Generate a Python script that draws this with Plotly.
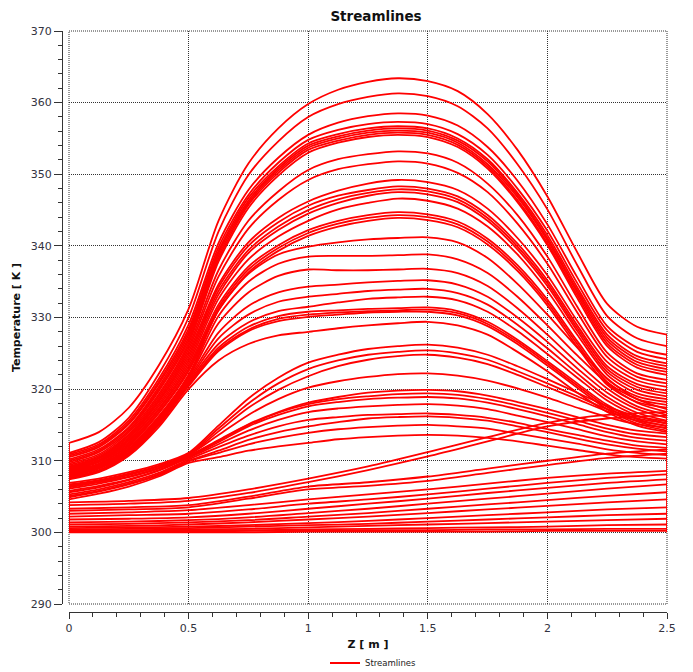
import plotly.graph_objects as go

# ---------------- data ----------------
# axial positions (m) at which the streamline temperatures were read
Z_FINE = [0.0, 0.125, 0.25, 0.375, 0.5, 0.625, 0.75, 0.875, 1.0, 1.125, 1.25,
          1.375, 1.5, 1.625, 1.75, 1.875, 2.0, 2.125, 2.25, 2.375, 2.5]
Z_COARSE = [0.0, 0.25, 0.5, 0.75, 1.0, 1.25, 1.5, 1.75, 2.0, 2.25, 2.5]
INLET_T = 300.0
Z_IN, Z_OUT = 0.0, 2.5

# hottest streamlines (peak 351-363 K), temperatures on Z_FINE
FAMILY_A = [
    [312.5, 314.0, 317.4, 323.3, 331.2, 343.5, 351.5, 356.4, 359.8, 361.8, 362.9, 363.4, 363.0, 361.6, 358.4, 353.4, 346.9, 339.1, 331.9, 328.7, 327.6],
    [311.1, 312.6, 316.0, 322.1, 330.0, 342.0, 349.9, 354.6, 358.0, 359.8, 360.8, 361.3, 360.9, 359.5, 356.4, 351.4, 345.1, 337.3, 330.2, 327.1, 326.0],
    [310.9, 312.3, 315.6, 321.4, 329.0, 340.4, 347.8, 352.3, 355.5, 357.2, 358.1, 358.5, 358.2, 356.8, 353.8, 349.1, 343.0, 335.6, 328.8, 325.8, 324.8],
    [310.7, 312.1, 315.3, 321.0, 328.4, 339.8, 347.1, 351.6, 354.8, 356.2, 357.0, 357.3, 357.0, 355.6, 352.7, 348.0, 342.1, 334.8, 328.2, 325.2, 324.2],
    [310.5, 311.9, 315.1, 320.7, 328.0, 339.3, 346.7, 351.1, 354.3, 355.6, 356.4, 356.7, 356.4, 355.0, 352.1, 347.4, 341.5, 334.2, 327.6, 324.6, 323.6],
    [310.2, 311.6, 314.7, 320.3, 327.6, 339.0, 346.3, 350.8, 354.0, 355.3, 356.1, 356.4, 356.1, 354.7, 351.8, 347.1, 341.1, 333.8, 327.2, 324.2, 323.2],
    [310.0, 311.4, 314.5, 320.0, 327.2, 338.6, 346.0, 350.5, 353.7, 355.0, 355.8, 356.1, 355.8, 354.4, 351.4, 346.8, 340.8, 333.5, 326.8, 323.8, 322.8],
    [309.8, 311.2, 314.2, 319.7, 326.8, 338.2, 345.7, 350.2, 353.4, 354.7, 355.5, 355.8, 355.5, 354.1, 351.1, 346.4, 340.4, 333.1, 326.4, 323.4, 322.4],
    [309.6, 310.9, 314.0, 319.3, 326.4, 337.8, 345.3, 349.8, 353.0, 354.4, 355.2, 355.5, 355.2, 353.8, 350.8, 346.1, 340.1, 332.7, 326.0, 323.0, 322.0],
    [309.4, 310.7, 313.7, 319.0, 326.0, 336.6, 343.5, 347.6, 350.6, 352.1, 352.8, 353.2, 352.9, 351.6, 348.7, 344.3, 338.5, 331.5, 325.1, 322.2, 321.3],
    [309.2, 310.5, 313.5, 318.7, 325.6, 335.7, 342.4, 346.4, 349.2, 350.7, 351.4, 351.8, 351.5, 350.2, 347.5, 343.1, 337.5, 330.7, 324.5, 321.7, 320.8],
]

# peak 344-349 K
FAMILY_B = [
    [309.1, 310.4, 313.3, 318.4, 325.2, 334.6, 340.5, 343.9, 346.2, 347.7, 348.7, 349.2, 348.9, 347.8, 345.2, 341.1, 335.9, 329.5, 323.8, 321.2, 320.3],
    [309.0, 310.3, 313.1, 318.2, 324.8, 334.2, 340.0, 343.3, 345.6, 347.0, 347.8, 348.3, 348.0, 346.9, 344.3, 340.3, 335.2, 328.9, 323.2, 320.7, 319.8],
    [308.9, 310.1, 312.9, 317.9, 324.4, 333.7, 339.4, 342.7, 345.0, 346.5, 347.4, 347.9, 347.6, 346.5, 343.9, 339.9, 334.8, 328.5, 322.8, 320.3, 319.4],
    [308.8, 310.0, 312.8, 317.6, 324.0, 333.2, 339.0, 342.2, 344.5, 346.0, 347.0, 347.5, 347.2, 346.1, 343.5, 339.5, 334.4, 328.1, 322.4, 319.9, 319.0],
    [308.7, 309.9, 312.6, 317.3, 323.6, 332.6, 338.1, 341.3, 343.5, 345.1, 346.0, 346.6, 346.3, 345.2, 342.7, 338.8, 333.7, 327.6, 322.0, 319.4, 318.6],
    [308.6, 309.8, 312.4, 317.1, 323.2, 331.8, 337.1, 340.1, 342.2, 343.5, 344.3, 344.7, 344.4, 343.4, 341.0, 337.3, 332.5, 326.7, 321.4, 319.0, 318.2],
    [308.5, 309.6, 312.2, 316.8, 322.8, 331.4, 336.7, 339.7, 341.8, 343.1, 343.9, 344.3, 344.0, 343.0, 340.6, 336.9, 332.1, 326.3, 321.0, 318.6, 317.8],
    [308.4, 309.5, 312.1, 316.6, 322.5, 331.0, 336.3, 339.3, 341.4, 342.7, 343.5, 343.9, 343.6, 342.6, 340.2, 336.5, 331.7, 325.9, 320.6, 318.2, 317.4],
]

# peak 329-341 K, flat plateau
FAMILY_C = [
    [308.3, 309.4, 311.9, 316.2, 322.0, 331.0, 336.1, 338.8, 339.9, 340.5, 340.9, 341.1, 341.2, 340.5, 338.3, 334.7, 330.4, 325.8, 321.5, 318.6, 317.2],
    [308.2, 309.3, 311.7, 316.1, 321.8, 330.2, 335.0, 337.5, 338.5, 338.6, 338.6, 338.7, 338.8, 338.1, 336.2, 332.9, 328.9, 324.7, 320.8, 318.1, 316.8],
    [308.1, 309.2, 311.6, 315.9, 321.6, 329.2, 333.5, 335.8, 336.7, 336.6, 336.6, 336.7, 336.8, 336.2, 334.4, 331.3, 327.6, 323.7, 320.1, 317.6, 316.4],
    [308.0, 309.1, 311.5, 315.8, 321.4, 327.9, 331.6, 333.5, 334.3, 334.6, 334.9, 335.1, 335.2, 334.6, 332.9, 330.0, 326.6, 322.9, 319.5, 317.2, 316.0],
    [307.9, 309.0, 311.4, 315.6, 321.2, 327.1, 330.4, 332.2, 332.9, 333.3, 333.7, 333.9, 334.0, 333.4, 331.8, 329.0, 325.7, 322.2, 318.9, 316.7, 315.6],
    [307.8, 308.9, 311.2, 315.5, 321.0, 326.3, 329.3, 330.9, 331.5, 332.1, 332.6, 332.8, 332.9, 332.4, 330.8, 328.1, 324.9, 321.6, 318.4, 316.3, 315.2],
    [307.7, 308.7, 311.1, 315.3, 320.8, 325.8, 328.7, 330.2, 330.8, 331.0, 331.2, 331.3, 331.4, 330.9, 329.4, 326.9, 323.9, 320.8, 317.8, 315.8, 314.8],
    [307.6, 308.6, 311.0, 315.1, 320.6, 325.5, 328.3, 329.8, 330.4, 330.7, 330.9, 331.0, 331.1, 330.6, 329.1, 326.6, 323.6, 320.5, 317.5, 315.5, 314.5],
    [307.5, 308.5, 310.9, 315.0, 320.4, 325.3, 328.1, 329.5, 330.1, 330.4, 330.7, 330.8, 330.8, 330.3, 328.8, 326.3, 323.3, 320.2, 317.2, 315.2, 314.2],
    [307.4, 308.4, 310.7, 314.7, 320.0, 324.0, 326.3, 327.5, 328.0, 328.5, 328.9, 329.2, 329.4, 328.9, 327.6, 325.2, 322.5, 319.5, 316.8, 314.9, 314.0],
]

# peak 313-326 K, later rise
FAMILY_D = [
    [306.9, 307.5, 308.4, 309.5, 311.1, 314.9, 318.7, 321.6, 323.7, 324.8, 325.6, 326.0, 326.2, 325.8, 324.8, 323.2, 321.4, 319.5, 317.6, 316.2, 315.5],
    [306.7, 307.3, 308.2, 309.3, 310.9, 314.5, 318.0, 320.8, 322.8, 324.0, 324.8, 325.2, 325.4, 325.0, 324.1, 322.5, 320.8, 319.0, 317.2, 315.9, 315.2],
    [306.6, 307.2, 308.1, 309.2, 310.8, 314.1, 317.4, 319.9, 321.8, 323.2, 324.1, 324.6, 324.8, 324.4, 323.5, 322.0, 320.3, 318.6, 316.9, 315.6, 314.9],
    [306.5, 307.1, 308.0, 309.2, 310.8, 313.6, 316.4, 318.6, 320.2, 321.1, 321.7, 322.1, 322.2, 321.9, 321.2, 320.1, 318.8, 317.4, 316.1, 315.1, 314.6],
    [306.3, 307.0, 307.8, 309.0, 310.7, 312.9, 315.1, 316.8, 318.1, 318.9, 319.5, 319.8, 319.9, 319.7, 319.1, 318.2, 317.2, 316.1, 315.0, 314.2, 313.8],
    [306.1, 306.8, 307.7, 308.9, 310.6, 312.8, 315.0, 316.7, 317.9, 318.6, 319.0, 319.3, 319.4, 319.2, 318.6, 317.7, 316.7, 315.6, 314.5, 313.7, 313.3],
    [305.8, 306.5, 307.4, 308.7, 310.5, 312.6, 314.8, 316.4, 317.6, 318.2, 318.6, 318.8, 318.9, 318.7, 318.1, 317.2, 316.2, 315.1, 314.0, 313.2, 312.8],
    [305.6, 306.3, 307.3, 308.6, 310.4, 312.3, 314.2, 315.7, 316.8, 317.3, 317.6, 317.8, 317.9, 317.7, 317.2, 316.3, 315.4, 314.4, 313.4, 312.7, 312.3],
    [305.3, 306.0, 307.0, 308.3, 310.2, 311.9, 313.5, 314.8, 315.7, 316.1, 316.4, 316.5, 316.6, 316.4, 316.0, 315.3, 314.4, 313.6, 312.8, 312.1, 311.8],
    [305.1, 305.8, 306.8, 308.1, 310.0, 311.4, 312.9, 314.0, 314.8, 315.4, 315.9, 316.1, 316.2, 316.0, 315.6, 314.8, 314.0, 313.1, 312.3, 311.7, 311.3],
    [304.9, 305.7, 306.7, 308.0, 309.9, 311.1, 312.3, 313.2, 313.9, 314.4, 314.7, 314.9, 315.0, 314.8, 314.5, 313.8, 313.1, 312.4, 311.6, 311.1, 310.8],
    [304.6, 305.4, 306.4, 307.8, 309.7, 310.5, 311.4, 312.0, 312.5, 313.0, 313.3, 313.5, 313.6, 313.5, 313.2, 312.7, 312.1, 311.5, 310.9, 310.5, 310.3],
]

# near-wall streamlines, slowly rising, temperatures on Z_COARSE
FAMILY_E = [
    [304.2, 304.4, 304.8, 306.0, 307.5, 309.2, 311.2, 313.3, 315.3, 316.4, 316.8],
    [303.8, 304.0, 304.4, 305.5, 307.0, 308.7, 310.6, 312.7, 314.8, 315.9, 316.3],
    [303.3, 303.5, 303.8, 305.0, 306.4, 307.0, 307.8, 308.9, 310.0, 311.0, 311.6],
    [303.0, 303.2, 303.5, 304.7, 306.0, 306.5, 307.2, 308.3, 309.4, 310.4, 311.0],
    [302.6, 302.8, 303.1, 303.8, 304.6, 305.3, 306.0, 306.8, 307.6, 308.2, 308.6],
    [302.2, 302.4, 302.6, 303.2, 304.0, 304.6, 305.3, 306.1, 306.9, 307.6, 308.1],
    [301.8, 301.9, 302.1, 302.6, 303.3, 304.0, 304.7, 305.5, 306.2, 306.9, 307.4],
    [301.4, 301.5, 301.7, 302.1, 302.7, 303.3, 304.0, 304.7, 305.4, 306.1, 306.7],
    [301.1, 301.2, 301.4, 301.7, 302.2, 302.7, 303.3, 303.9, 304.5, 305.1, 305.6],
    [300.8, 300.9, 301.1, 301.4, 301.8, 302.2, 302.7, 303.2, 303.7, 304.2, 304.6],
    [300.6, 300.7, 300.8, 301.0, 301.3, 301.6, 302.0, 302.4, 302.8, 303.2, 303.5],
    [300.4, 300.5, 300.6, 300.8, 301.0, 301.2, 301.5, 301.8, 302.1, 302.4, 302.6],
    [300.3, 300.3, 300.4, 300.5, 300.7, 300.9, 301.1, 301.3, 301.5, 301.7, 301.9],
    [300.2, 300.2, 300.3, 300.3, 300.4, 300.5, 300.6, 300.7, 300.8, 301.0, 301.1],
    [300.1, 300.1, 300.1, 300.2, 300.2, 300.3, 300.3, 300.4, 300.4, 300.5, 300.5],
    [300.0, 300.0, 300.0, 300.0, 300.1, 300.1, 300.1, 300.1, 300.2, 300.2, 300.2],
]

X_TICKS = [0, 0.5, 1, 1.5, 2, 2.5]
X_TICK_TEXT = ["0", "0.5", "1", "1.5", "2", "2.5"]
Y_TICKS = [290, 300, 310, 320, 330, 340, 350, 360, 370]

# ---------------- figure ----------------
RED = "#ff0000"
FONT = "DejaVu Sans"
LW = 1.8
fig = go.Figure()

curves = ([(Z_FINE, c) for c in FAMILY_A + FAMILY_B + FAMILY_C + FAMILY_D]
          + [(Z_COARSE, c) for c in FAMILY_E])
for i, (zs, temps) in enumerate(curves):
    fig.add_trace(go.Scatter(
        x=zs, y=temps, mode="lines",
        line=dict(color=RED, width=LW, shape="spline", smoothing=0.8),
        name="Streamlines", legendgroup="s", showlegend=(i == 0),
        hoverinfo="skip"))

# inlet / outlet boundary segments of the streamlines
fig.add_trace(go.Scatter(x=[Z_IN, Z_IN], y=[INLET_T, max(c[0] for _, c in curves)],
                         mode="lines", line=dict(color=RED, width=LW),
                         legendgroup="s", showlegend=False, hoverinfo="skip"))
fig.add_trace(go.Scatter(x=[Z_OUT, Z_OUT], y=[INLET_T, max(c[-1] for _, c in curves)],
                         mode="lines", line=dict(color=RED, width=LW),
                         legendgroup="s", showlegend=False, hoverinfo="skip"))

# page is shown with an 8 px body margin -> positions below are screen minus 8
W, H = 693, 700
ML, MR, MT = 54, 34, 23
AXIS_Y = 604                      # x-axis line, figure px from top
MB = H - AXIS_Y
pw = W - ML - MR
ph = H - MT - MB

axis_common = dict(
    showline=True, linecolor="#333333", linewidth=1,
    ticks="outside", tickcolor="#333333", tickwidth=1,
    showgrid=True, gridcolor="#333333", gridwidth=1, griddash="1px,1px",
    zeroline=False, automargin=False,
    tickfont=dict(family=FONT, size=11, color="#333340"),
)

fig.update_layout(
    width=W, height=H,
    margin=dict(l=ML, r=MR, t=MT, b=MB),
    paper_bgcolor="white", plot_bgcolor="white",
    font=dict(family=FONT, color="#111111"),
    title=dict(text="<b>Streamlines</b>", font=dict(family=FONT, size=13.5, color="#111111"),
               x=368 / W, xref="container", xanchor="center",
               y=1 - 8.5 / H, yref="container", yanchor="middle"),
    xaxis=dict(
        range=[0, 2.5], domain=[7 / pw, 1], anchor="free", position=0,
        tickvals=X_TICKS, ticktext=X_TICK_TEXT, ticklen=6,
        minor=dict(ticks="outside", dtick=0.1, tick0=0, ticklen=4,
                   tickcolor="#333333", showgrid=False),
        title=dict(text="<b>Z [ m ]</b>", font=dict(family=FONT, size=11, color="#111111"),
                   standoff=6),
        **axis_common),
    yaxis=dict(
        range=[290, 370], domain=[8 / ph, 1], anchor="free", position=0,
        tickvals=Y_TICKS, ticklen=8,
        minor=dict(ticks="outside", dtick=2, tick0=290, ticklen=4,
                   tickcolor="#333333", showgrid=False),
        title=dict(text="<b>Temperature [ K ]</b>", font=dict(family=FONT, size=11, color="#111111"),
                   standoff=6),
        **axis_common),
    legend=dict(orientation="h", x=(317 - ML) / pw, xanchor="left",
                y=-(655 - AXIS_Y) / ph, yanchor="middle",
                font=dict(family=FONT, size=8.5, color="#222222"),
                bgcolor="rgba(0,0,0,0)"),
    shapes=[dict(type="rect", xref="x domain", yref="y domain", x0=0, x1=1, y0=0, y1=1,
                 line=dict(color="#333333", width=1, dash="1px,1px"), layer="below")],
)

fig.write_html("out.html")
